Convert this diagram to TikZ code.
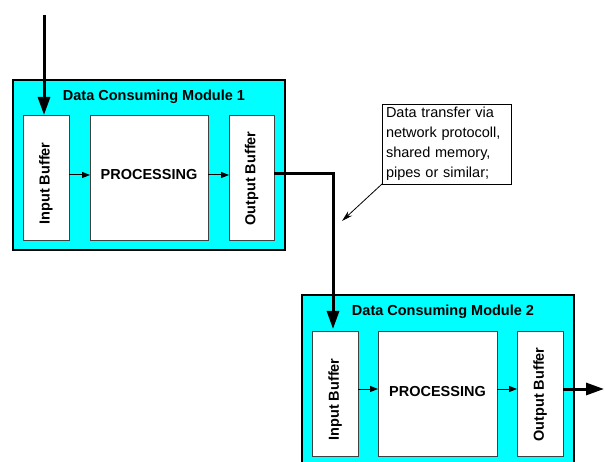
\documentclass[tikz,border=0pt]{standalone}
\usepackage{fontspec}
\setmainfont{Liberation Sans}
\usetikzlibrary{arrows.meta}
\definecolor{cy}{RGB}{0,255,255}
\begin{document}
\begin{tikzpicture}[x=1pt,y=-1pt,
  font=\fontsize{14.5}{20}\selectfont,
  modbox/.style={draw=black, line width=2pt, fill=cy, anchor=north west, inner sep=0pt, outer sep=0pt},
  inbox/.style={draw=black!75, line width=0.9pt, fill=white, anchor=north west, inner sep=0pt, outer sep=0pt, minimum height=125pt},
  vlab/.style={rotate=90, font=\fontsize{14.5}{20}\selectfont\bfseries},
  title/.style={font=\fontsize{14.5}{20}\selectfont\bfseries},
  bigarrow/.style={line width=3pt, -{Triangle[length=18pt,width=12pt]}},
  smallarrow/.style={line width=1pt, -{Triangle[length=8pt,width=6pt]}},
  notearrow/.style={line width=0.8pt, -{Stealth[length=11pt,width=6pt]}},
  note/.style={draw=black, line width=0.8pt, fill=white, anchor=north west, inner xsep=4pt, inner ysep=0pt, text width=121pt, minimum height=80pt, align=left, outer sep=0pt}
]
\useasboundingbox (0,0) rectangle (605,462);
\clip (0,0) rectangle (605,462);
% module 1
\node[modbox, minimum width=272pt, minimum height=170pt] (m1) at (13,80) {};
\node[title] (t1) at (154,97) {Data Consuming Module 1};
\node[inbox, minimum width=46pt] (ib1) at (23,115) {};
\node[vlab] (ib1t) at ([yshift=-6pt]ib1.center) {Input Buffer};
\node[inbox, minimum width=118pt] (pr1) at (90,115) {};
\node[title] (pr1t) at ([yshift=2.5pt]pr1.center) {PROCESSING};
\node[inbox, minimum width=45pt] (ob1) at (229,115) {};
\node[vlab] (ob1t) at ([yshift=-1pt]ob1.center) {Output Buffer};
% module 2
\node[modbox, minimum width=272pt, minimum height=170pt] (m2) at (302,295) {};
\node[title] (t2) at (443,312) {Data Consuming Module 2};
\node[inbox, minimum width=46pt] (ib2) at (312,331) {};
\node[vlab] (ib2t) at ([yshift=-6pt]ib2.center) {Input Buffer};
\node[inbox, minimum width=119pt] (pr2) at (378,331) {};
\node[title] (pr2t) at ([yshift=2pt]pr2.center) {PROCESSING};
\node[inbox, minimum width=46pt] (ob2) at (517,331) {};
\node[vlab] (ob2t) at ([yshift=-1pt]ob2.center) {Output Buffer};
% note
\node[note] (nt) at (382,104) {Data transfer via\\network protocoll,\\shared memory,\\pipes or similar;};
% connectors
\coordinate (in1) at (44,15);
\coordinate (out2) at (604,389);
\coordinate (ntip) at (342,221);
\draw[bigarrow] (in1) -- (in1 |- ib1.north);
\draw[smallarrow] (ib1.east |- 0,175) -- (pr1.west |- 0,175);
\draw[smallarrow] (pr1.east |- 0,175) -- (ob1.west |- 0,175);
\draw[smallarrow] (ib2.east |- 0,389) -- (pr2.west |- 0,389);
\draw[smallarrow] (pr2.east |- 0,389) -- (ob2.west |- 0,389);
\draw[bigarrow] (ob1.east |- 0,174) -- (333,174) -- (333,329);
\draw[bigarrow] (ob2.east |- out2) -- (out2);
\draw[notearrow] (nt.south west) -- (ntip);
\end{tikzpicture}
\end{document}
